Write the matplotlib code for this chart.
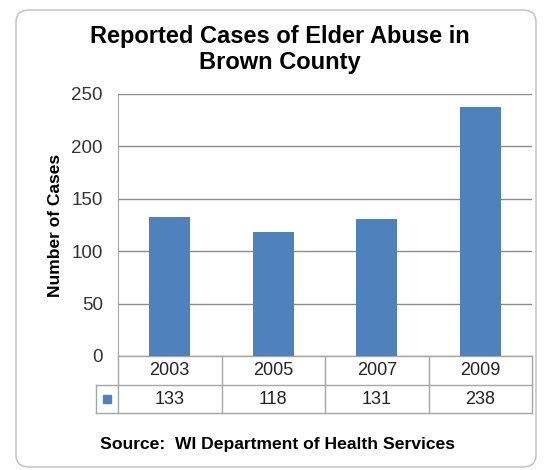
import matplotlib.pyplot as plt
from matplotlib.patches import FancyBboxPatch, Rectangle

years = ['2003', '2005', '2007', '2009']
cases = [133, 118, 131, 238]

bar_color = '#4F81BD'
line_color = '#A6A6A6'
fam = ['Liberation Sans', 'DejaVu Sans']

W, H = 550, 470
fig = plt.figure(figsize=(W / 100, H / 100), dpi=100)
fig.patch.set_facecolor('white')

# rounded outer border
fig.patches.append(FancyBboxPatch((16 / W, 3 / H), 520 / W, 457 / H,
                                  boxstyle='round,pad=0,rounding_size=0.025',
                                  transform=fig.transFigure, fill=False,
                                  edgecolor='#BFBFBF', linewidth=1.0))

# plot area: x 118..532, y 94..356
ax = fig.add_axes([118 / W, 1 - 356 / H, 414 / W, 262 / H])
x = list(range(len(years)))
ax.bar(x, cases, width=0.4, color=bar_color, zorder=3)
ax.set_xlim(-0.5, len(years) - 0.5)
ax.set_ylim(0, 250)
ax.set_yticks(range(0, 251, 50))
ax.yaxis.grid(True, color='#8C8C8C', linewidth=1.0, zorder=0)
ax.set_xticks([])
for s in ['top', 'right', 'bottom']:
    ax.spines[s].set_visible(False)
ax.spines['left'].set_color(line_color)
ax.tick_params(axis='y', length=0, labelsize=13.5, pad=11, colors='#333333')
ax.set_ylabel('Number of Cases', fontsize=12.5, fontweight='bold', labelpad=6)

# data table below the axis
tr = ax.get_xaxis_transform()
ph = 262.0
r1 = -29 / ph
r2 = -57 / ph
leg_x = -0.5 - 22 / (414 / 4)
kw = dict(color=line_color, linewidth=1.0, clip_on=False, transform=tr)
ax.plot([-0.5, 3.5], [0, 0], **kw)
ax.plot([leg_x, 3.5], [r1, r1], **kw)
ax.plot([leg_x, 3.5], [r2, r2], **kw)
ax.plot([leg_x, leg_x], [r1, r2], **kw)
for b in [-0.5, 0.5, 1.5, 2.5, 3.5]:
    ax.plot([b, b], [0, r2], **kw)
for i, (yr, v) in enumerate(zip(years, cases)):
    ax.text(i, r1 / 2, yr, transform=tr, ha='center', va='center',
            fontsize=13, color='#222222')
    ax.text(i, (r1 + r2) / 2, str(v), transform=tr, ha='center', va='center',
            fontsize=13, color='#222222')
ax.add_patch(Rectangle(((leg_x - 0.5) / 2 - 0.035, (r1 + r2) / 2 - 0.016),
                       0.07, 0.032, transform=tr, color=bar_color,
                       clip_on=False))

fig.text(280 / W, 1 - 36 / H, 'Reported Cases of Elder Abuse in', ha='center',
         va='center', fontsize=17, fontweight='bold', family=fam)
fig.text(280 / W, 1 - 63 / H, 'Brown County', ha='center', va='center',
         fontsize=17, fontweight='bold', family=fam)
fig.text(277 / W, 1 - 444 / H, 'Source:  WI Department of Health Services',
         ha='center', va='center', fontsize=12.6, fontweight='bold', family=fam)

for t in ax.get_yticklabels():
    t.set_family(fam)
ax.yaxis.label.set_family(fam)
for t in ax.texts:
    t.set_family(fam)

fig.savefig('out.png', dpi=100)
